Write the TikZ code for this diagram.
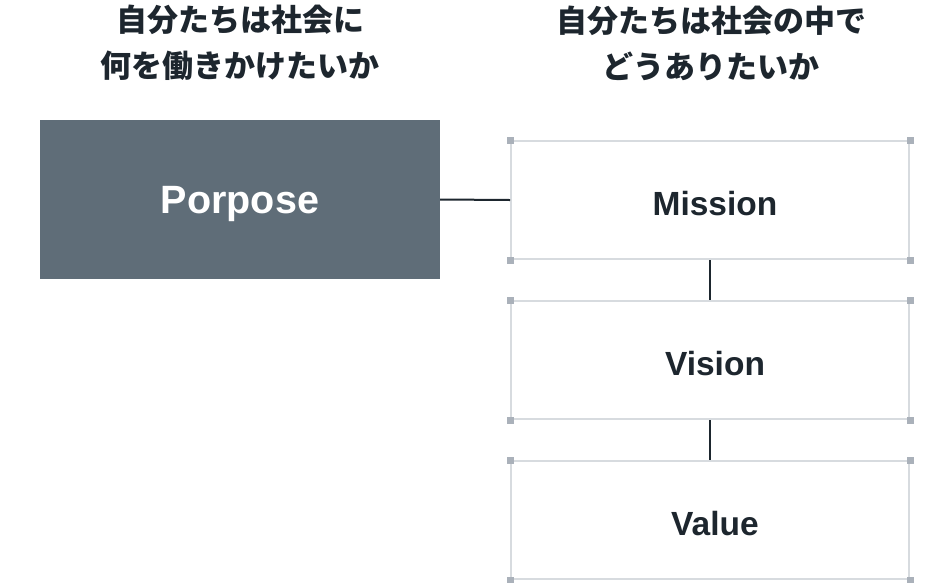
\documentclass[tikz,border=0pt]{standalone}
\usepackage{fontspec}
\setmainfont{Liberation Sans}
\newfontfamily\jpfont{Noto Sans CJK JP}
\definecolor{purposefill}{HTML}{5F6D78}
\definecolor{boxline}{HTML}{D7DBDF}
\definecolor{cornerc}{HTML}{AAB1BA}
\definecolor{inkc}{HTML}{1D262E}
\tikzset{
  heading/.style={align=center, text=inkc, font=\jpfont\bfseries\fontsize{31}{46}\selectfont, inner sep=0pt},
  purposebox/.style={fill=purposefill, draw=none, minimum width=400pt, minimum height=159pt, inner sep=0pt, text=white, text height=28pt, text depth=0pt, font=\bfseries\fontsize{39.5}{42}\selectfont},
  itembox/.style={draw=boxline, line width=2pt, fill=white, minimum width=398pt, minimum height=118pt, inner sep=0pt, text=inkc, text height=30pt, text depth=0pt, font=\bfseries\fontsize{33.5}{38}\selectfont},
  corner/.style={fill=cornerc, draw=none, minimum size=7pt, inner sep=0pt},
  link/.style={draw=inkc, line width=2pt}
}
\begin{document}
\begin{tikzpicture}[x=1pt,y=-1pt]
\useasboundingbox (0,0) rectangle (950,582);
\node[heading] (h1) at (240,43) {自分たちは社会に\\何を働きかけたいか};
\node[heading] (h2) at (711,43) {自分たちは社会の中で\\どうありたいか};
\node[purposebox] (purpose) at (240,199.5) {Porpose};
\node[itembox] (mission) at (710,200) {\hspace*{10pt}Mission};
\node[itembox] (vision) at (710,360) {\hspace*{10pt}Vision};
\node[itembox] (value) at (710,520) {\hspace*{10pt}Value};
\foreach \b in {mission,vision,value}{
  \foreach \c in {north west,north east,south west,south east}{
    \node[corner] at (\b.\c) {};
  }
}
\draw[link] (purpose.east) -- (mission.west);
\draw[link] (mission.south) -- (vision.north);
\draw[link] (vision.south) -- (value.north);
\end{tikzpicture}
\end{document}
